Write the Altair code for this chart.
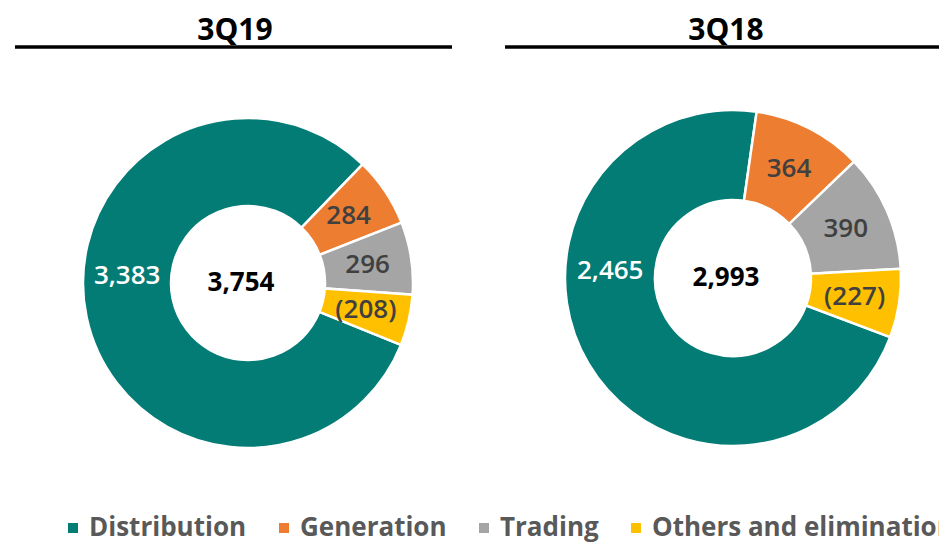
import math
import altair as alt
import pandas as pd

# ---- data ----
segments = ["Distribution", "Generation", "Trading", "Others and elimination"]
colors = ["#027C75", "#ED7D31", "#A5A5A5", "#FFC000"]
periods = ["3Q19", "3Q18"]
values_3q19 = [3383, 284, 296, -208]
values_3q18 = [2465, 364, 390, -227]
totals = [3754, 2993]

FONT = "Open Sans"
TOP = 12  # top padding of the whole chart
W, H = 931, 528


def donut(period, values, total, cx, cy, r_in, r_out, r_lbl, start, title_x, rx1, rx2):
    cy = cy - TOP
    df = pd.DataFrame({"segment": segments, "value": values, "idx": list(range(len(segments)))})
    base = alt.Chart(df).transform_calculate(
        absval="abs(datum.value)",
        label="datum.value < 0 ? '(' + format(-datum.value, ',') + ')' : format(datum.value, ',')",
    )
    theta = alt.Theta("absval:Q", stack=True,
                      scale=alt.Scale(range=[start, start + 2 * math.pi]))
    order = alt.Order("idx:Q", sort="ascending")

    arcs = base.mark_arc(innerRadius=r_in, outerRadius=r_out, stroke="white", strokeWidth=2.5).encode(
        theta=theta,
        color=alt.Color("segment:N", scale=alt.Scale(domain=segments, range=colors),
                        sort=segments, legend=alt.Legend(title=None)),
        order=order,
        x=alt.value(cx), y=alt.value(cy),
    )
    labels = base.transform_calculate(
        slabel="datum.segment == 'Distribution' ? '' : datum.label"
    ).mark_text(font=FONT, fontSize=26, fontWeight=600, color="#404040").encode(
        theta=theta,
        radius=alt.value(r_lbl),
        text="slabel:N",
        detail="segment:N",
        order=order,
        x=alt.value(cx), y=alt.value(cy),
    )
    dlabel = base.transform_filter(alt.datum.segment == "Distribution").mark_text(
        font=FONT, fontSize=26, fontWeight=600, color="white"
    ).encode(
        theta=alt.value(4.77), radius=alt.value(r_lbl), text="label:N",
        x=alt.value(cx), y=alt.value(cy),
    )
    center = alt.Chart(pd.DataFrame({"total": [total]})).mark_text(
        font=FONT, fontSize=26, fontWeight="bold", color="black"
    ).encode(text=alt.Text("total:Q", format=","), x=alt.value(cx - 7), y=alt.value(cy))

    pdf = pd.DataFrame({"period": [period]})
    title = alt.Chart(pdf).mark_text(
        font=FONT, fontSize=30, fontWeight="bold", color="black", baseline="alphabetic"
    ).encode(text="period:N", x=alt.value(title_x), y=alt.value(32 - TOP))
    rule = alt.Chart(pdf).mark_rule(color="black", strokeWidth=3.5).encode(
        x=alt.value(rx1), x2=alt.value(rx2), y=alt.value(39 - TOP)
    )
    return [arcs, labels, dlabel, center, title, rule]


left = donut(periods[0], values_3q19, totals[0], 240, 275, 77, 165, 121, 1.955,
             227, 7, 444)
right = donut(periods[1], values_3q18, totals[1], 725, 270, 78, 168, 123, 1.93,
              718, 497, 935)

chart = alt.layer(*left, *right).resolve_scale(
    theta="independent"
).properties(
    width=W, height=H,
    padding={"left": 0, "top": TOP, "right": 0, "bottom": 0},
    autosize=alt.AutoSizeParams(type="none"),
).configure_view(stroke=None).configure_legend(
    orient="none", legendX=52, legendY=507 - TOP, direction="horizontal", columns=4,
    symbolType="square", symbolSize=100, symbolStrokeWidth=0,
    labelFont=FONT, labelFontSize=26, labelFontWeight="bold", labelColor="#595959",
    columnPadding=24, labelOffset=3, labelLimit=600,
)

chart.save("out.html", embed_options={"renderer": "svg", "actions": False})
